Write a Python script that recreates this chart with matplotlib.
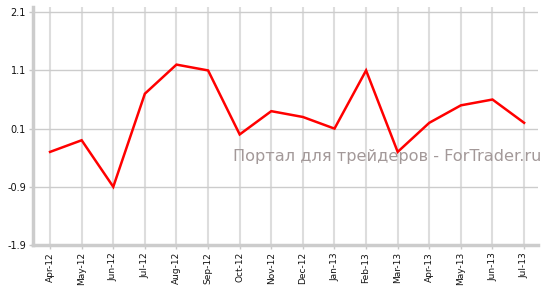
import matplotlib
matplotlib.use("Agg")
import matplotlib.pyplot as plt

# ---- data ----
months = ["Apr-12", "May-12", "Jun-12", "Jul-12", "Aug-12", "Sep-12", "Oct-12", "Nov-12",
          "Dec-12", "Jan-13", "Feb-13", "Mar-13", "Apr-13", "May-13", "Jun-13", "Jul-13"]
values = [-0.3, -0.1, -0.9, 0.7, 1.2, 1.1, 0.0, 0.4,
          0.3, 0.1, 1.1, -0.3, 0.2, 0.5, 0.6, 0.2]
yticks = [-1.9, -0.9, 0.1, 1.1, 2.1]

plt.rcParams['font.family'] = ['DejaVu Sans']

fig = plt.figure(figsize=(5.48, 2.93), dpi=100)
# axes box in pixels: left 33, right 538, top 7, bottom 245
ax = fig.add_axes([33 / 548, (293 - 245) / 293, (538 - 33) / 548, (245 - 7) / 293])

x = list(range(len(months)))
ax.plot(x, values, color='#ff0000', lw=1.8, zorder=3, solid_joinstyle='miter')

ax.set_xlim(-0.54, len(months) - 1 + 0.44)
ax.set_ylim(-1.9, 2.19)

ax.set_yticks(yticks)
ax.set_yticklabels([f"{v:.1f}" for v in yticks], fontsize=7, color='#111111')
ax.set_xticks(x)
ax.set_xticklabels(months, rotation=90, fontsize=6.5, color='#111111')

# grid
ax.grid(axis='y', color='#cccccc', lw=1.0, zorder=0)
ax.grid(axis='x', color='#dddddd', lw=1.5, zorder=0)

for side in ['top', 'right']:
    ax.spines[side].set_visible(False)
for side in ['left', 'bottom']:
    ax.spines[side].set_color('#cccccc')
    ax.spines[side].set_linewidth(2.5)
ax.tick_params(axis='both', length=3, width=1, color='#c8c8c8', pad=2)

# watermark
ax.text(1.006, 0.37, "Портал для трейдеров - ForTrader.ru", transform=ax.transAxes,
        ha='right', va='center', fontsize=11.6, color='#a39999', zorder=4)

fig.savefig("out.png", dpi=100)
